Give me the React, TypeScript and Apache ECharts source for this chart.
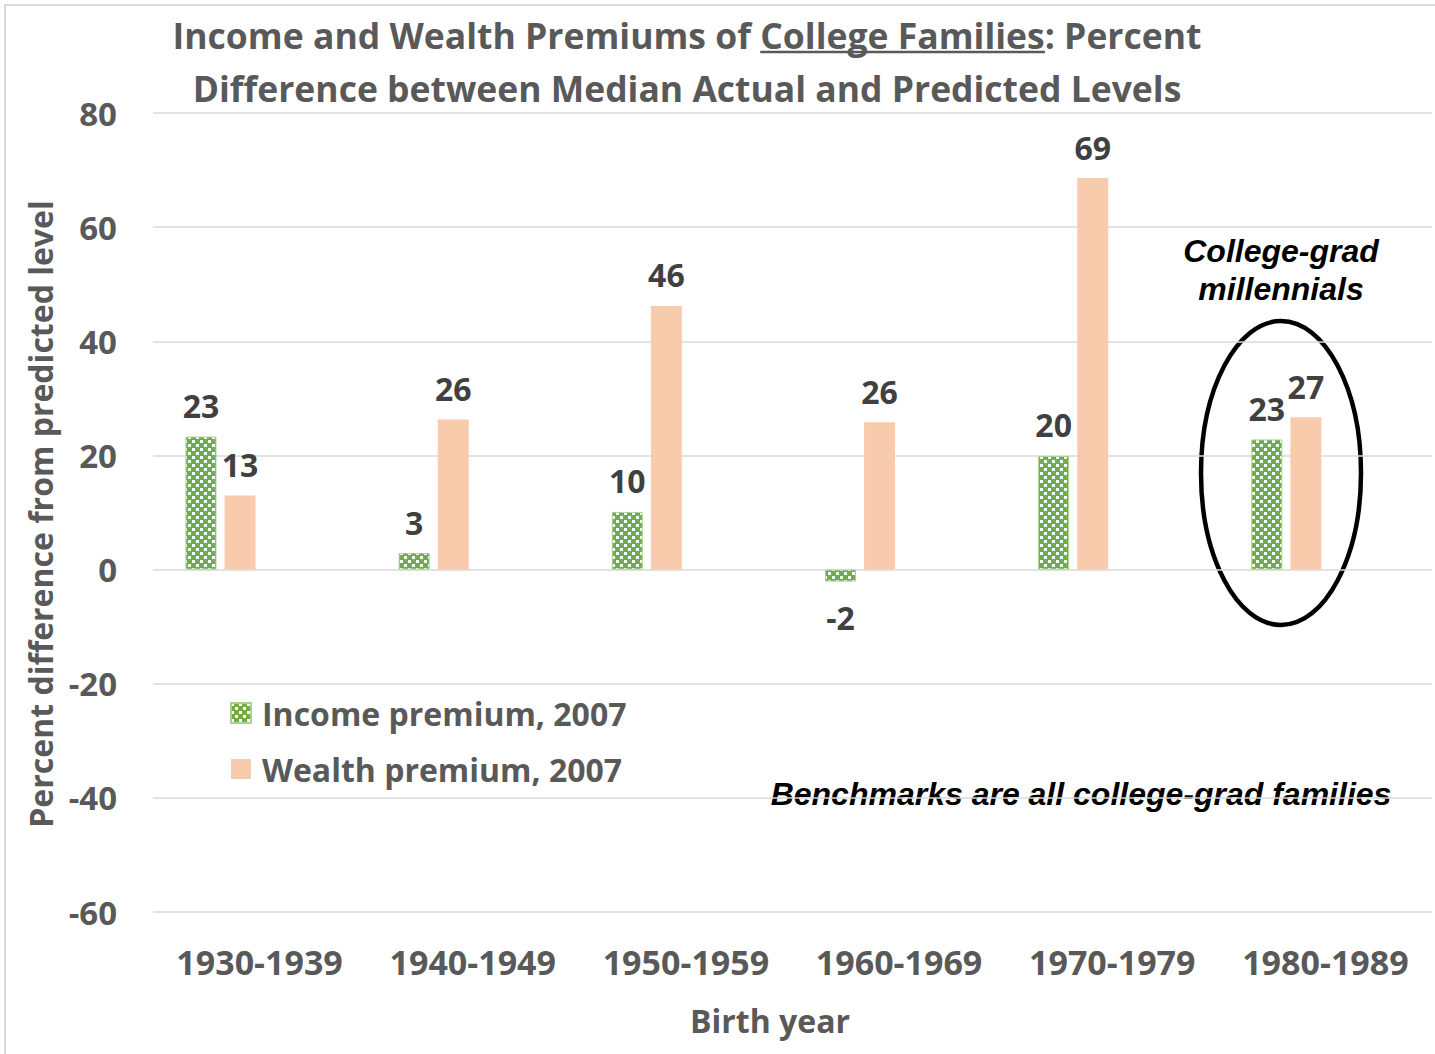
import React, { useEffect, useRef } from "react";
import * as echarts from "echarts";

const categories = ["1930-1939", "1940-1949", "1950-1959", "1960-1969", "1970-1979", "1980-1989"];
const incomePremium = [23.3, 2.9, 10.1, -2.1, 19.9, 22.8];
const wealthPremium = [13.0, 26.3, 46.2, 25.8, 68.6, 26.7];
const seriesNames = ["Income premium, 2007", "Wealth premium, 2007"];
const yMin = -60;
const yMax = 80;
const yInterval = 20;
const titleLine1Prefix = "Income and Wealth Premiums of ";
const titleLine1Underlined = "College Families";
const titleLine1Suffix = ": Percent";
const titleLine2 = "Difference between Median Actual and Predicted Levels";
const yAxisTitle = "Percent difference from predicted level";
const xAxisTitle = "Birth year";
const noteMillennials = ["College-grad", "millennials"];
const noteBenchmark = "Benchmarks are all college-grad families";

const FONT = "'Open Sans', sans-serif";
const NOTE_FONT = "'Liberation Sans', Arial, sans-serif";
const GREEN = "#70AD47";
const PEACH = "#F8CBAD";
const AXIS_GRAY = "#595959";
const LABEL_DARK = "#404040";

function makeChecker(): HTMLCanvasElement {
  const c = document.createElement("canvas");
  c.width = 8;
  c.height = 8;
  const ctx = c.getContext("2d")!;
  ctx.fillStyle = GREEN;
  ctx.fillRect(0, 0, 8, 8);
  ctx.fillStyle = "#ffffff";
  ctx.fillRect(0, 0, 3, 3);
  ctx.fillRect(4, 4, 3, 3);
  return c;
}

export default function App() {
  const ref = useRef<HTMLDivElement>(null);
  useEffect(() => {
    document.body.style.margin = "0";
    const chart = echarts.init(ref.current!, null, { renderer: "svg" });
    const mctx = document.createElement("canvas").getContext("2d")!;
    const measure = (t: string, font: string) => {
      mctx.font = font;
      return mctx.measureText(t).width;
    };
    const titleFont = `bold 36px 'Open Sans'`;
    const line1 = titleLine1Prefix + titleLine1Underlined + titleLine1Suffix;
    const W1 = measure(line1, titleFont);
    const P1 = measure(titleLine1Prefix, titleFont);
    const C1 = measure(titleLine1Underlined, titleFont);
    const W2 = measure(titleLine2, titleFont);
    const s1 = 1029 / W1;
    const s2 = 989 / W2;

    const pattern: any = { image: makeChecker(), repeat: "repeat", imageWidth: 8, imageHeight: 8 };

    const labelBase = {
      show: true,
      distance: 15,
      fontSize: 32,
      fontWeight: "bold",
      fontFamily: FONT,
      color: LABEL_DARK,
      formatter: (p: any) => String(Math.round(p.value)),
    };
    const toItems = (arr: number[]) =>
      arr.map((v) =>
        v < 0
          ? { value: v, label: { position: "bottom", distance: 20 } }
          : { value: v, label: { position: "top" } }
      );

    const option: any = {
      animation: false,
      backgroundColor: "#ffffff",
      grid: { left: 153, right: 3, top: 113, bottom: 142, containLabel: false },
      legend: {
        data: seriesNames,
        orient: "vertical",
        left: 225,
        top: 692,
        itemWidth: 20,
        itemHeight: 20,
        itemGap: 24,
        icon: "rect",
        textStyle: {
          fontSize: 32,
          fontWeight: "bold",
          fontFamily: FONT,
          color: AXIS_GRAY,
          padding: [0, 0, 0, 6],
        },
      },
      xAxis: {
        type: "category",
        data: categories,
        axisLine: { show: false, onZero: false },
        axisTick: { show: false },
        axisLabel: {
          interval: 0,
          hideOverlap: false,
          margin: 33,
          fontSize: 34,
          fontWeight: "bold",
          fontFamily: FONT,
          color: AXIS_GRAY,
        },
      },
      yAxis: {
        type: "value",
        min: yMin,
        max: yMax,
        interval: yInterval,
        axisLine: { show: false },
        axisTick: { show: false },
        splitLine: { lineStyle: { color: "#d9d9d9", width: 1.5 } },
        axisLabel: {
          margin: 36,
          fontSize: 33,
          fontWeight: "bold",
          fontFamily: FONT,
          color: AXIS_GRAY,
        },
      },
      series: [
        {
          name: seriesNames[0],
          type: "bar",
          barWidth: 31,
          barGap: "26%",
          data: toItems(incomePremium),
          itemStyle: { color: pattern, borderColor: "#A9D18E", borderWidth: 1 },
          label: labelBase,
        },
        {
          name: seriesNames[1],
          type: "bar",
          barWidth: 31,
          barGap: "26%",
          data: toItems(wealthPremium),
          itemStyle: { color: PEACH },
          label: labelBase,
        },
        { name: "pad1", type: "bar", barWidth: 31, barGap: "26%", data: categories.map(() => "-") },
        { name: "pad2", type: "bar", barWidth: 31, barGap: "26%", data: categories.map(() => "-") },
      ],
      graphic: [
        {
          type: "rect",
          silent: true,
          shape: { x: 5, y: 5, width: 1445, height: 1065 },
          style: { fill: "none", stroke: "#d9d9d9", lineWidth: 2 },
        },
        {
          type: "group",
          x: 687,
          y: 35,
          scaleX: s1,
          children: [
            {
              type: "text",
              x: 0,
              y: 0,
              style: {
                text: line1,
                font: titleFont,
                fill: AXIS_GRAY,
                align: "center",
                verticalAlign: "middle",
              },
            },
            {
              type: "line",
              shape: { x1: -W1 / 2 + P1, y1: 17, x2: -W1 / 2 + P1 + C1, y2: 17 },
              style: { stroke: AXIS_GRAY, lineWidth: 2.5 },
            },
          ],
        },
        {
          type: "text",
          x: 687,
          y: 88,
          scaleX: s2,
          style: {
            text: titleLine2,
            font: titleFont,
            fill: AXIS_GRAY,
            align: "center",
            verticalAlign: "middle",
          },
        },
        {
          type: "text",
          x: 40,
          y: 514,
          rotation: Math.PI / 2,
          style: {
            text: yAxisTitle,
            font: `bold 32px 'Open Sans'`,
            fill: AXIS_GRAY,
            align: "center",
            verticalAlign: "middle",
          },
        },
        {
          type: "text",
          x: 770,
          y: 1020,
          style: {
            text: xAxisTitle,
            font: `bold 32px 'Open Sans'`,
            fill: AXIS_GRAY,
            align: "center",
            verticalAlign: "middle",
          },
        },
        {
          type: "text",
          x: 1281,
          y: 251,
          style: {
            text: noteMillennials[0],
            font: `italic bold 32px ${NOTE_FONT}`,
            fill: "#000000",
            align: "center",
            verticalAlign: "middle",
          },
        },
        {
          type: "text",
          x: 1281,
          y: 289,
          style: {
            text: noteMillennials[1],
            font: `italic bold 32px ${NOTE_FONT}`,
            fill: "#000000",
            align: "center",
            verticalAlign: "middle",
          },
        },
        {
          type: "text",
          x: 1081,
          y: 794,
          style: {
            text: noteBenchmark,
            font: `italic bold 32px ${NOTE_FONT}`,
            fill: "#000000",
            align: "center",
            verticalAlign: "middle",
          },
        },
        {
          type: "ellipse",
          shape: { cx: 1281, cy: 473, rx: 80, ry: 152 },
          style: { fill: "none", stroke: "#000000", lineWidth: 4.5 },
        },
      ],
    };
    chart.setOption(option);
    return () => chart.dispose();
  }, []);
  return <div ref={ref} style={{ width: 1435, height: 1054 }} />;
}
